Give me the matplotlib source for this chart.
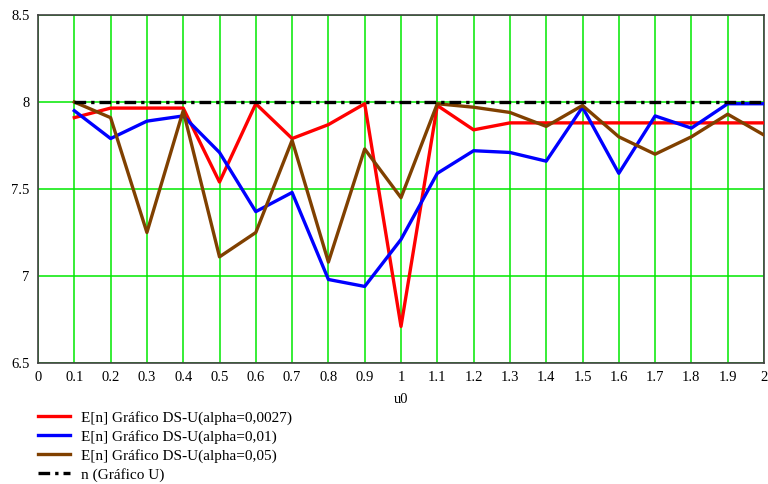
import matplotlib
matplotlib.use("Agg")
import matplotlib.pyplot as plt
import numpy as np

u0 = [0.1, 0.2, 0.3, 0.4, 0.5, 0.6, 0.7, 0.8, 0.9, 1.0,
      1.1, 1.2, 1.3, 1.4, 1.5, 1.6, 1.7, 1.8, 1.9, 2.0]
en_0027 = [7.91, 7.965, 7.965, 7.965, 7.54, 7.99, 7.79, 7.87, 7.99, 6.71,
           7.98, 7.84, 7.88, 7.88, 7.88, 7.88, 7.88, 7.88, 7.88, 7.88]
en_001 = [7.95, 7.79, 7.89, 7.92, 7.71, 7.37, 7.48, 6.98, 6.94, 7.21,
          7.59, 7.72, 7.71, 7.66, 7.97, 7.59, 7.92, 7.85, 7.99, 7.99]
en_005 = [8.0, 7.91, 7.25, 7.95, 7.11, 7.25, 7.78, 7.08, 7.73, 7.45,
          7.99, 7.97, 7.94, 7.86, 7.98, 7.80, 7.70, 7.80, 7.93, 7.81]
n_u = [8.0] * 20

labels = ["E[n] Gráfico DS-U(alpha=0,0027)",
          "E[n] Gráfico DS-U(alpha=0,01)",
          "E[n] Gráfico DS-U(alpha=0,05)",
          "n (Gráfico U)"]
xticks = [round(0.1 * i, 1) for i in range(21)]
xticklabels = ["0", "0.1", "0.2", "0.3", "0.4", "0.5", "0.6", "0.7", "0.8", "0.9", "1",
               "1.1", "1.2", "1.3", "1.4", "1.5", "1.6", "1.7", "1.8", "1.9", "2"]
yticks = [6.5, 7, 7.5, 8, 8.5]
yticklabels = ["6.5", "7", "7.5", "8", "8.5"]

plt.rcParams['font.family'] = ['Liberation Serif', 'DejaVu Serif']

fig = plt.figure(figsize=(7.68, 4.84), dpi=100)
ax = fig.add_axes([38/768, 1-363/484, (764-38)/768, (363-15)/484])

lw = 2.4
l1, = ax.plot(u0, en_0027, color='#ff0000', lw=lw, zorder=3)
l2, = ax.plot(u0, en_001, color='#0000ff', lw=lw, zorder=3)
l3, = ax.plot(u0, en_005, color='#804000', lw=lw, zorder=3)
l4, = ax.plot(u0, n_u, color='black', lw=lw, dashes=(3.5, 1.5, 1, 1.5), zorder=4)

ax.set_xlim(0, 2)
ax.set_ylim(6.5, 8.5)
ax.set_xticks(xticks)
ax.set_xticklabels(xticklabels, fontsize=10.5)
ax.set_yticks(yticks)
ax.set_yticklabels(yticklabels, fontsize=10.5)
ax.tick_params(length=0, pad=6)
ax.grid(True, color='#00e800', lw=1.1, zorder=1)
ax.set_axisbelow(True)
for s in ax.spines.values():
    s.set_color('#404040')
    s.set_linewidth(1.2)
ax.set_xlabel("u0", fontsize=10.5, labelpad=6)

fig.legend([l1, l2, l3, l4], labels, loc='upper left',
           bbox_to_anchor=(30/768, 1-403/484), frameon=False,
           fontsize=11, handlelength=2.15, handletextpad=0.7,
           labelspacing=0.33, borderpad=0)

fig.savefig("out.png", dpi=100)
